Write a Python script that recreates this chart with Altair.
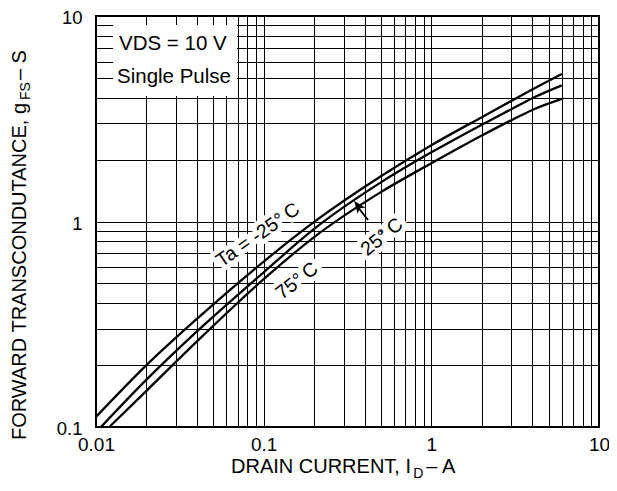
import altair as alt
import pandas as pd

# ---- data (I_D in A, gFS in S) ----
x_m25 = [0.01, 0.02, 0.04, 0.1, 0.2, 0.5, 1, 2, 3, 4, 6]
g_m25 = [0.112, 0.2, 0.336, 0.638, 0.995, 1.66, 2.35, 3.22, 3.86, 4.39, 5.22]
x_25 = [0.0107, 0.02, 0.04, 0.1, 0.2, 0.5, 1, 2, 3, 4, 6]
g_25 = [0.1, 0.17, 0.292, 0.566, 0.92, 1.55, 2.17, 2.96, 3.52, 3.98, 4.6]
x_75 = [0.012, 0.02, 0.04, 0.1, 0.2, 0.5, 1, 2, 3, 4, 6]
g_75 = [0.1, 0.15, 0.261, 0.524, 0.84, 1.39, 1.92, 2.62, 3.11, 3.49, 3.95]
series_names = ["-25", "25", "75"]

x_decades = [0.01, 0.1, 1]
y_decades = [0.1, 1]
x_labels = ["0.01", "0.1", "1", "10"]
y_labels = ["0.1", "1", "10"]

FONT = "Liberation Sans"

rows = []
for name, xs, gs in zip(series_names, [x_m25, x_25, x_75], [g_m25, g_25, g_75]):
    for x, g in zip(xs, gs):
        rows.append({"series": name, "id": x, "gfs": g})
df = pd.DataFrame(rows)

x_grid = [round(k * d, 10) for d in x_decades for k in range(1, 10)] + [10]
y_grid = [round(k * d, 10) for d in y_decades for k in range(1, 10)] + [10]

def lab_expr(vals):
    cond = "||".join(f"datum.value=={v}" for v in vals)
    return f"({cond}) ? datum.label : ''"

W = 503
H = 411

common_axis = dict(grid=True, ticks=False, domain=False, title=None,
                   labelFont=FONT, labelColor="black",
                   labelOverlap=False, labelFlush=False,
                   gridColor="black", gridWidth=1, gridOpacity=1)

x_enc = alt.X("id:Q",
              scale=alt.Scale(type="log", domain=[0.01, 10], nice=False),
              axis=alt.Axis(values=x_grid, format="~g",
                            labelExpr=lab_expr([float(v) for v in x_labels]),
                            labelFontSize=19, labelPadding=8, **common_axis))
y_enc = alt.Y("gfs:Q",
              scale=alt.Scale(type="log", domain=[0.1, 10], nice=False),
              axis=alt.Axis(values=y_grid, format="~g",
                            labelExpr=lab_expr([float(v) for v in y_labels]),
                            labelFontSize=18.5, labelOffset=1.5,
                            labelPadding=14, **common_axis))

curves = alt.Chart(df).mark_line(color="black", strokeWidth=2.3, interpolate="monotone").encode(
    x=x_enc, y=y_enc, detail="series:N", order="id:Q")

def one(s):
    return alt.Chart(pd.DataFrame({"t": [s]}))

def txt(s, x, y, size, angle=0, align="left", baseline="alphabetic", halo=0):
    kw = dict(font=FONT, fontSize=size, align=align, baseline=baseline, angle=angle)
    if halo:
        m = one(s).mark_text(color="white", stroke="white", strokeWidth=halo, strokeJoin="round", **kw)
    else:
        m = one(s).mark_text(color="black", **kw)
    return m.encode(text="t:N", x=alt.value(x), y=alt.value(y))

# Arial / Liberation Sans advance widths (per 1000 em)
AW = {' ': 278, ',': 278, '–': 556, 'A': 667, 'C': 722, 'D': 722, 'E': 667, 'F': 611,
      'I': 278, 'N': 722, 'O': 778, 'R': 722, 'S': 667, 'T': 611, 'U': 722, 'W': 944, 'g': 556}
def tw(s, size):
    return sum(AW.get(c, 600) for c in s) * size / 1000.0

layers = []
# white box behind the condition text
layers.append(one("box").mark_rect(color="white").encode(
    x=alt.value(17), x2=alt.value(141), y=alt.value(9), y2=alt.value(80)))

# curve labels (halo + text)
curve_labels = [("Ta = -25°\u2009C", 162, 219, 325), ("75°\u2009C", 201, 265, 322), ("25°\u2009C", 286, 221, 321)]
for s, x, y, a in curve_labels:
    layers.append(txt(s, x, y, 19.5, angle=a, align="center", baseline="middle", halo=10))

layers.append(curves)

for s, x, y, a in curve_labels:
    layers.append(txt(s, x, y, 19.5, angle=a, align="center", baseline="middle"))

# arrow for 25 C
layers.append(one("a").mark_rule(color="black", strokeWidth=2).encode(
    x=alt.value(272), y=alt.value(204), x2=alt.value(261), y2=alt.value(190)))
layers.append(one("h").mark_point(shape="M0,-1L-0.75,0.9L0,0.45L0.75,0.9Z", filled=True, color="black",
                                  opacity=1, size=170, angle=323).encode(
    x=alt.value(262), y=alt.value(190)))

# condition text
layers.append(txt("VDS = 10 V", 23, 34, 20.5))
layers.append(txt("Single Pulse", 21, 67, 20.5))

# x title with subscript
xs0, xb = 135, 457
p1, p2, p3 = "DRAIN CURRENT, I", "D", " – A"
layers.append(txt(p1, xs0, xb, 20))
layers.append(txt(p2, xs0 + tw(p1, 20), xb + 5, 14))
layers.append(txt(p3, xs0 + tw(p1, 20) + tw(p2, 14) + 3, xb, 20))

# y title with subscript (rotated)
ys0, yb = 424, -70
q1, q2, q3 = "FORWARD TRANSCONDUTANCE, g", "FS", " – S"
layers.append(txt(q1, yb, ys0, 20, angle=270))
layers.append(txt(q2, yb + 4, ys0 - tw(q1, 20), 14, angle=270))
layers.append(txt(q3, yb, ys0 - tw(q1, 20) - tw(q2, 14) - 2, 20, angle=270))

chart = alt.layer(*layers).properties(
    width=W, height=H,
    autosize=alt.AutoSizeParams(type="none"),
    padding={"left": 88, "top": 8, "right": 10, "bottom": 54},
    background="white",
).configure_view(stroke="black", strokeWidth=2)

chart.save("out.html", embed_options={"renderer": "svg", "actions": False})
